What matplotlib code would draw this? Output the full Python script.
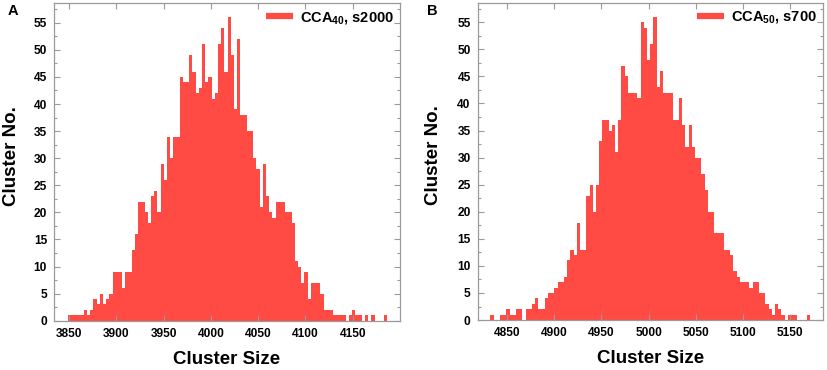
import numpy as np
import matplotlib
matplotlib.use('Agg')
import matplotlib.pyplot as plt
from matplotlib.lines import Line2D
from matplotlib.ticker import MultipleLocator

plt.rcParams['font.family'] = ['Liberation Sans', 'DejaVu Sans']
plt.rcParams['font.weight'] = 'bold'
plt.rcParams['mathtext.fontset'] = 'custom'
plt.rcParams['mathtext.rm'] = 'Liberation Sans:bold'
plt.rcParams['mathtext.it'] = 'Liberation Sans:bold'
plt.rcParams['mathtext.bf'] = 'Liberation Sans:bold'

# ---- data (100 bins per panel) ----
counts_a = [1, 1, 1, 1, 1, 2, 1, 2, 4, 3,
            5, 3, 4, 5, 9, 9, 9, 6, 9, 9,
            13, 16, 22, 22, 20, 18, 23, 24, 20, 29,
            26, 34, 30, 34, 34, 45, 44, 44, 49, 46,
            42, 43, 51, 44, 45, 41, 42, 51, 54, 46,
            56, 49, 39, 52, 38, 38, 35, 35, 30, 28,
            21, 29, 23, 20, 19, 22, 22, 22, 20, 20,
            18, 11, 10, 7, 9, 4, 7, 7, 7, 5,
            2, 2, 2, 1, 1, 1, 1, 0, 1, 2,
            1, 1, 0, 1, 0, 1, 0, 0, 0, 1]
range_a = (3848.6, 4186.7)

counts_b = [1, 0, 0, 1, 1, 2, 1, 1, 2, 2,
            0, 2, 2, 3, 4, 2, 2, 4, 5, 5,
            6, 7, 7, 8, 11, 13, 12, 18, 13, 13,
            23, 25, 20, 25, 33, 37, 37, 35, 36, 31,
            37, 47, 45, 42, 42, 42, 41, 55, 54, 48,
            51, 56, 43, 46, 42, 42, 42, 37, 37, 41,
            36, 32, 36, 32, 30, 30, 27, 24, 20, 20,
            16, 16, 16, 13, 13, 12, 9, 8, 7, 7,
            7, 6, 7, 7, 5, 5, 3, 2, 1, 3,
            2, 1, 0, 1, 1, 1, 0, 0, 0, 1]
range_b = (4832.4, 5171.2)

xticks_a = [3850, 3900, 3950, 4000, 4050, 4100, 4150]
xticks_b = [4850, 4900, 4950, 5000, 5050, 5100, 5150]
xlim_a = (3834, 4200)
xlim_b = (4819, 5185)
yticks = [0, 5, 10, 15, 20, 25, 30, 35, 40, 45, 50, 55]
legend_labels = ['CCA$_{40}$, s2000', 'CCA$_{50}$, s700']
panel_letters = ['A', 'B']
xlabel = 'Cluster Size'
ylabel = 'Cluster No.'

bar_color = '#FF4B43'
spine_color = '#9a9a9a'

fig = plt.figure(figsize=(8.27, 3.70), dpi=100)
axA = fig.add_axes([0.0653, 0.1332, 0.4184, 0.8580])
axB = fig.add_axes([0.5776, 0.1350, 0.4179, 0.8576])


def draw(ax, counts, rng, xticks, xlim, label, ylab_x):
    counts = np.asarray(counts, dtype=float)
    edges = np.linspace(rng[0], rng[1], len(counts) + 1)
    ax.bar(edges[:-1], counts, width=np.diff(edges), align='edge',
           color=bar_color, edgecolor='none', linewidth=0)
    ax.set_xlim(*xlim)
    ax.set_ylim(0, 58.6)
    ax.set_xticks(xticks)
    ax.set_yticks(yticks)
    ax.yaxis.set_minor_locator(MultipleLocator(2.5))
    for s in ax.spines.values():
        s.set_color(spine_color)
        s.set_linewidth(0.9)
    ax.tick_params(which='both', direction='in', top=True, right=True,
                   color=spine_color, width=0.8)
    ax.tick_params(which='major', length=4, labelsize=8.6, pad=5)
    ax.tick_params(which='minor', length=2.5)
    for t in ax.get_xticklabels() + ax.get_yticklabels():
        t.set_fontweight('bold')
    ax.set_xlabel(xlabel, fontsize=13.5, fontweight='bold')
    ax.set_ylabel(ylabel, fontsize=13.5, fontweight='bold')
    ax.xaxis.set_label_coords(0.5, -0.095)
    ax.yaxis.set_label_coords(ylab_x, 0.52)
    handle = Line2D([], [], color=bar_color, lw=4.5, solid_capstyle='butt')
    ax.legend([handle], [label], loc='upper right', frameon=False,
              prop={'weight': 'bold', 'size': 10.5}, handlelength=1.85,
              handletextpad=0.45, borderaxespad=0.15, borderpad=0.3)


draw(axA, counts_a, range_a, xticks_a, xlim_a, legend_labels[0], -0.098)
draw(axB, counts_b, range_b, xticks_b, xlim_b, legend_labels[1], -0.104)

fig.text(8 / 827, 1 - 4 / 370, panel_letters[0], fontsize=10.5,
         fontweight='bold', va='top', ha='left')
fig.text(427 / 827, 1 - 4 / 370, panel_letters[1], fontsize=10.5,
         fontweight='bold', va='top', ha='left')

fig.savefig('out.png', dpi=100)
